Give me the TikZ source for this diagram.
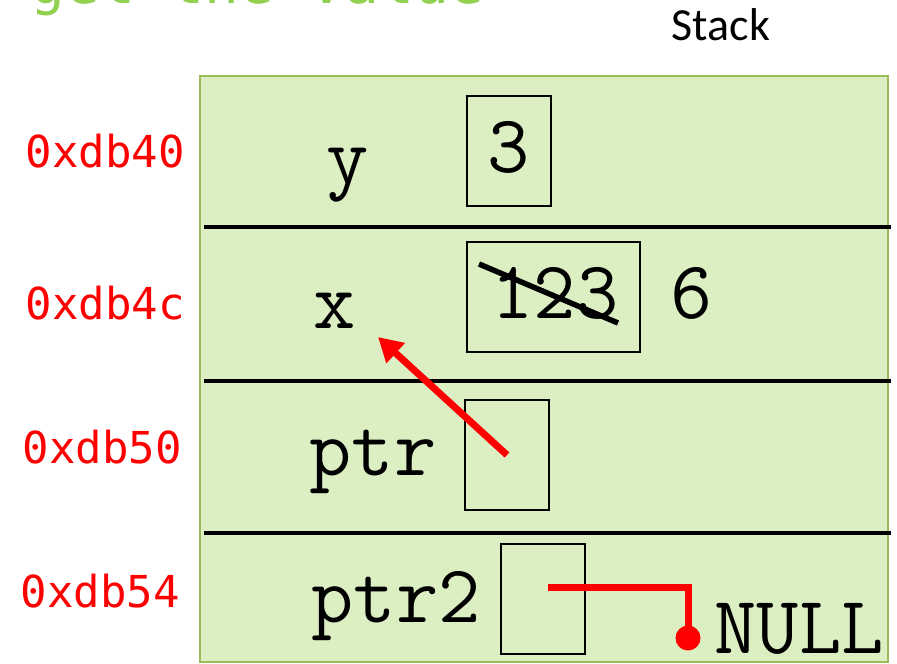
\documentclass[tikz,border=0pt]{standalone}
\usepackage{fontspec}
\usetikzlibrary{arrows.meta}
\newfontfamily\addrfont{DejaVu Sans Mono}
\newfontfamily\stackfont{Carlito}
\definecolor{cellfill}{RGB}{220,239,195}
\definecolor{cellborder}{RGB}{155,187,89}
\definecolor{titlegreen}{RGB}{146,208,80}
\tikzset{
  valbox/.style={draw,line width=1.6pt,inner sep=0pt},
  varname/.style={anchor=base,inner sep=0pt,font=\fontsize{82}{84}\selectfont\ttfamily},
  addr/.style={anchor=east,inner sep=0pt,text=red,font=\fontsize{44}{46}\selectfont\addrfont},
  ptrline/.style={red,line width=7pt},
}
\begin{document}
\begin{tikzpicture}[x=1pt,y=-1pt]
\useasboundingbox (0,0) rectangle (897,664);
\node[anchor=base west,inner sep=0pt,text=titlegreen,font=\fontsize{58}{60}\selectfont\addrfont] (title) at (30,3) {get the value};
\node[inner sep=0pt,font=\fontsize{46}{48}\selectfont\stackfont] (stacklbl) at (721,25) {Stack};
% the stack frame
\draw[cellborder,fill=cellfill,line width=1.5pt] (200,76) rectangle (888,662);
\foreach \yy in {227,381,533}{
  \draw[line width=4pt] (204,\yy)--(891,\yy);
}
\foreach \yy/\xx/\adr in {151/185/0xdb40,303/185/0xdb4c,447/182/0xdb50,591/180/0xdb54}{
  \node[addr] (addr-\adr) at (\xx,\yy) {\adr};
}
% variables
\node[varname] (yname) at (348,183) {y};
\node[varname] (xname) at (335,328) {x};
\node[varname] (ptrname) at (373,475) {ptr};
\node[varname] (ptrtwoname) at (396,622) {ptr2};
\node[valbox,minimum width=84,minimum height=110] (ybox) at (509,151) {};
\node[valbox,minimum width=173,minimum height=110] (xbox) at (553.5,297) {};
\node[valbox,minimum width=84,minimum height=110] (ptrbox) at (507,455) {};
\node[valbox,minimum width=84,minimum height=110] (ptrtwobox) at (543,599) {};
\node[varname] (yval) at (509,172) {3};
\node[varname] (xval) at (555,318) {123};
\draw[line width=5.5pt] (479,264)--(618,323);
\node[varname] (xnew) at (692,318) {6};
\node[varname] (nullname) at (799,653) {NULL};
% pointers
\coordinate (xtip) at (378,337);
\draw[ptrline,-{Triangle[length=24pt,width=26pt]}] (ptrbox.center)--(xtip);
\coordinate (ptrtwostart) at (548,587);
\node[circle,fill=red,inner sep=0pt,minimum size=25] (nulldot) at (688,638) {};
\draw[ptrline] (ptrtwostart) -| (nulldot.center);
\end{tikzpicture}
\end{document}
